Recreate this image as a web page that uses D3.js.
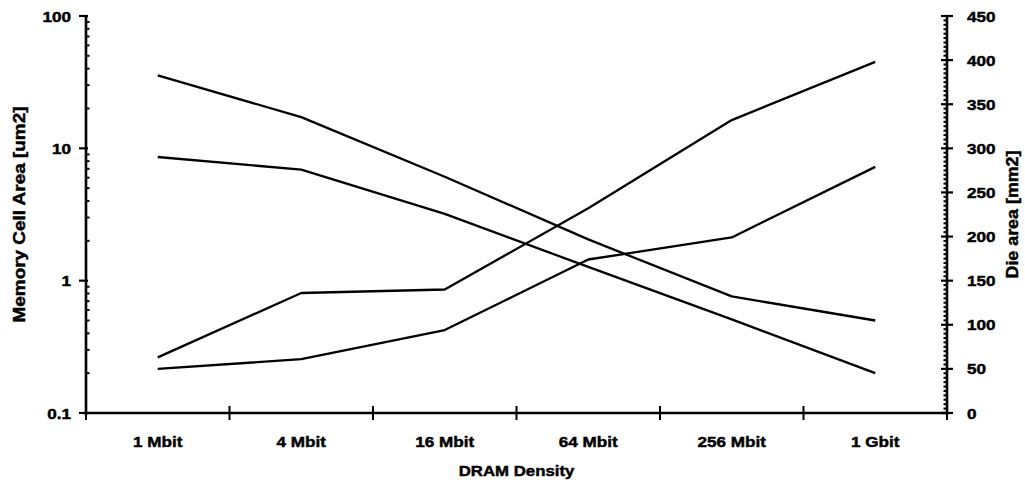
<!DOCTYPE html>
<html><head><meta charset="utf-8">
<script src="https://cdn.jsdelivr.net/npm/d3@7"></script>
<style>
html,body{margin:0;padding:0;background:#fff;}
svg{display:block;}
text{font-family:"Liberation Sans",Arial,sans-serif;font-weight:bold;fill:#000;stroke:#000;stroke-width:0.45px;}
</style></head>
<body>
<svg id="chart" width="1025" height="488"></svg>
<script>
const categories = ["1 Mbit","4 Mbit","16 Mbit","64 Mbit","256 Mbit","1 Gbit"];
const cellAreaA = [35.6, 17.2, 6.1, 2.05, 0.76, 0.50];
const cellAreaB = [8.6, 6.9, 3.2, 1.27, 0.51, 0.20];
const dieAreaC = [63, 136, 140, 232, 332, 398];
const dieAreaD = [50, 61, 94, 174, 199, 279];
const leftTicks = [0.1, 1, 10, 100];
const rightTicks = [0, 50, 100, 150, 200, 250, 300, 350, 400, 450];
const xTitle = "DRAM Density";
const leftTitle = "Memory Cell Area [um2]";
const rightTitle = "Die area [mm2]";

const svg = d3.select("#chart");
const L = 86, R = 947, T = 16, B = 413;
const SX = 1.14;

const x = d3.scaleBand().domain(categories).range([L, R]).padding(0);
const yL = d3.scaleLog().domain([0.1, 100]).range([B, T]);
const yR = d3.scaleLinear().domain([0, 450]).range([B, T]);

const g = svg.append("g");

// left axis minor ticks (inside)
const minors = [];
[0.1, 1, 10].forEach(d => { for (let k = 2; k <= 9; k++) minors.push(+(d * k).toPrecision(3)); });
g.selectAll(".lminor").data(minors).join("line")
  .attr("x1", L).attr("x2", L + 3.5)
  .attr("y1", d => yL(d)).attr("y2", d => yL(d))
  .attr("stroke", "#000").attr("stroke-width", 2);
// left major ticks
g.selectAll(".lmajor").data(leftTicks).join("line")
  .attr("x1", L - 7).attr("x2", L + 2)
  .attr("y1", d => yL(d)).attr("y2", d => yL(d))
  .attr("stroke", "#000").attr("stroke-width", 2.2);
g.selectAll(".llabel").data(leftTicks).join("text")
  .attr("transform", d => `translate(${L - 15},${yL(d) + 5.5}) scale(${SX},1)`)
  .attr("text-anchor", "end").attr("font-size", 15)
  .text(d => d3.format("~g")(d));

// right axis minor ticks (inside)
const rminors = d3.range(0, 451, 5).filter(v => v % 50 !== 0);
g.selectAll(".rminor").data(rminors).join("line")
  .attr("x1", R - 3.5).attr("x2", R)
  .attr("y1", d => yR(d)).attr("y2", d => yR(d))
  .attr("stroke", "#000").attr("stroke-width", 2);
g.selectAll(".rmajor").data(rightTicks).join("line")
  .attr("x1", R - 6).attr("x2", R + 6)
  .attr("y1", d => yR(d)).attr("y2", d => yR(d))
  .attr("stroke", "#000").attr("stroke-width", 2.2);
g.selectAll(".rlabel").data(rightTicks).join("text")
  .attr("transform", d => `translate(${R + 20},${yR(d) + 5.5}) scale(${SX},1)`)
  .attr("text-anchor", "start").attr("font-size", 15)
  .text(d => d);

// x axis boundary ticks
const bounds = categories.map(c => x(c)).concat([x.range()[1]]);
g.selectAll(".xtick").data(bounds).join("line")
  .attr("x1", d => d).attr("x2", d => d)
  .attr("y1", B - 7).attr("y2", B + 7)
  .attr("stroke", "#000").attr("stroke-width", 2);
g.selectAll(".xlabel").data(categories).join("text")
  .attr("transform", d => `translate(${x(d) + x.bandwidth() / 2},${B + 34}) scale(${SX},1)`)
  .attr("text-anchor", "middle").attr("font-size", 15)
  .text(d => d);

// axis lines
g.append("line").attr("x1", L).attr("x2", L).attr("y1", T).attr("y2", B + 2)
  .attr("stroke", "#000").attr("stroke-width", 2.6);
g.append("line").attr("x1", R).attr("x2", R).attr("y1", T).attr("y2", B + 2)
  .attr("stroke", "#000").attr("stroke-width", 2.6);
g.append("line").attr("x1", L).attr("x2", R).attr("y1", B).attr("y2", B)
  .attr("stroke", "#000").attr("stroke-width", 2.6);

// titles
g.append("text")
  .attr("transform", `translate(${(L + R) / 2},${B + 63}) scale(1.12,1)`)
  .attr("text-anchor", "middle").attr("font-size", 15).text(xTitle);
g.append("text")
  .attr("transform", `translate(25,${(T + B) / 2}) rotate(-90)`)
  .attr("text-anchor", "middle").attr("font-size", 17)
  .attr("textLength", 216).attr("lengthAdjust", "spacingAndGlyphs")
  .text(leftTitle);
g.append("text")
  .attr("transform", `translate(1018,${(T + B) / 2}) rotate(-90)`)
  .attr("text-anchor", "middle").attr("font-size", 17)
  .attr("textLength", 128).attr("lengthAdjust", "spacingAndGlyphs")
  .text(rightTitle);

// series
const cx = i => x(categories[i]) + x.bandwidth() / 2;
const lineL = d3.line().x((d, i) => cx(i)).y(d => yL(d));
const lineR = d3.line().x((d, i) => cx(i)).y(d => yR(d));
[cellAreaA, cellAreaB].forEach(s => {
  g.append("path").datum(s).attr("d", lineL)
    .attr("fill", "none").attr("stroke", "#000").attr("stroke-width", 2.3)
    .attr("stroke-linejoin", "round");
});
[dieAreaC, dieAreaD].forEach(s => {
  g.append("path").datum(s).attr("d", lineR)
    .attr("fill", "none").attr("stroke", "#000").attr("stroke-width", 2.3)
    .attr("stroke-linejoin", "round");
});
</script>
</body></html>
